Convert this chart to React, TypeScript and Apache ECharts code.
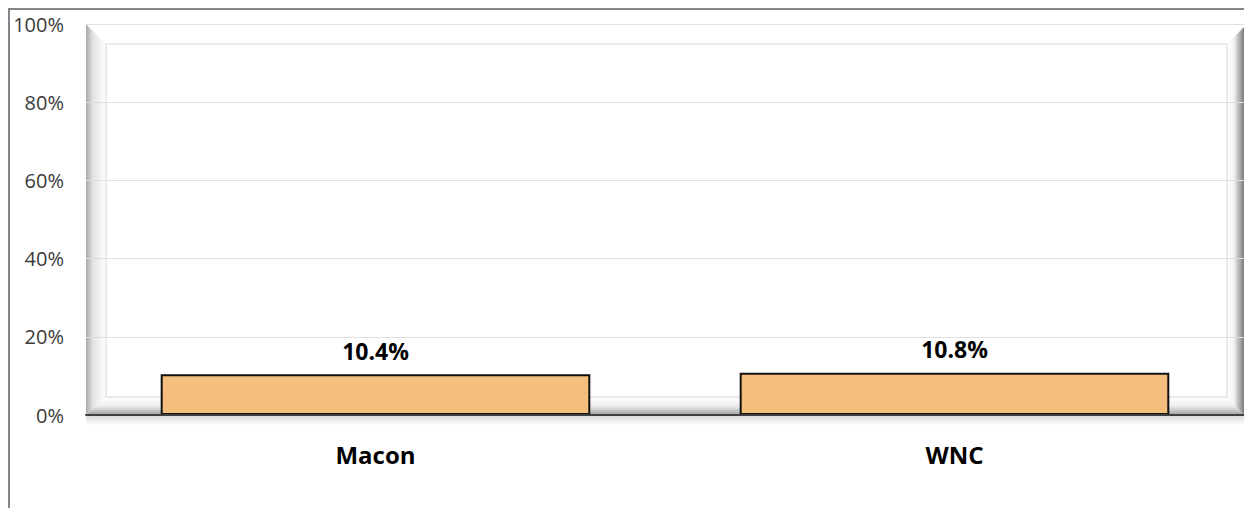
import React, { useEffect, useRef } from "react";
import * as echarts from "echarts";

const categories = ["Macon", "WNC"];
const values = [10.4, 10.8];
const yTicks = [0, 20, 40, 60, 80, 100];

const W = 1244;
const H = 508;
const L = 86;
const T = 24;
const B = 415;
const R = 1244;

export default function App() {
  const ref = useRef<HTMLDivElement>(null);
  useEffect(() => {
    document.body.style.margin = "0";
    const chart = echarts.init(ref.current!, null, { renderer: "svg" });
    const font = "'Open Sans', 'Liberation Sans', sans-serif";
    chart.setOption({
      animation: false,
      backgroundColor: "#ffffff",
      grid: { left: L, right: -2, top: T, bottom: H - B, containLabel: false },
      xAxis: {
        type: "category",
        data: categories,
        axisLine: { show: true, lineStyle: { color: "#404040", width: 2 } },
        axisTick: { show: false },
        axisLabel: { color: "#000", fontSize: 24, fontWeight: "bold", fontFamily: font, margin: 27 },
        z: 5,
      },
      yAxis: {
        type: "value",
        min: yTicks[0],
        max: yTicks[yTicks.length - 1],
        interval: 20,
        axisLine: { show: false },
        axisTick: { show: false },
        axisLabel: { color: "#3a3a3a", fontSize: 20, fontFamily: font, margin: 22, formatter: (v: number) => `${v}%` },
        splitLine: { show: true, lineStyle: { color: "#e0e0e0", width: 1 } },
      },
      graphic: [
        {
          type: "polyline",
          z: -20,
          shape: { points: [[9, H], [9, 9], [W, 9]] },
          style: { stroke: "#858585", lineWidth: 2, fill: null },
        },
        {
          type: "polygon",
          z: -10,
          shape: { points: [[L, T], [L + 20, T + 20], [L + 20, B - 18], [L, B]] },
          style: {
            fill: new echarts.graphic.LinearGradient(0, 0, 1, 0, [
              { offset: 0, color: "#a8a8a8" },
              { offset: 0.35, color: "#e4e4e4" },
              { offset: 1, color: "#ffffff" },
            ]),
          },
        },
        {
          type: "polygon",
          z: -10,
          shape: { points: [[L, B], [L + 20, B - 18], [1227, B - 18], [R, B]] },
          style: {
            fill: new echarts.graphic.LinearGradient(0, 0, 0, 1, [
              { offset: 0, color: "#ffffff" },
              { offset: 0.5, color: "#eeeeee" },
              { offset: 1, color: "#a0a0a0" },
            ]),
          },
        },
        {
          type: "polygon",
          z: -10,
          shape: { points: [[1227, T + 20], [R, T + 3], [R, B], [1227, B - 18]] },
          style: {
            fill: new echarts.graphic.LinearGradient(0, 0, 1, 0, [
              { offset: 0, color: "#ffffff" },
              { offset: 0.4, color: "#f4f4f4" },
              { offset: 1, color: "#7a7a7a" },
            ]),
          },
        },
        {
          type: "rect",
          z: -5,
          shape: { x: L + 20, y: T + 20, width: 1227 - L - 20, height: B - 18 - T - 20 },
          style: { fill: null, stroke: "#e4e4e4", lineWidth: 1.5 },
        },
        {
          type: "rect",
          z: -12,
          shape: { x: L, y: B, width: R - L, height: 10 },
          style: {
            fill: new echarts.graphic.LinearGradient(0, 0, 0, 1, [
              { offset: 0, color: "#d8d8d8" },
              { offset: 1, color: "#ffffff" },
            ]),
          },
        },
      ],
      series: [
        {
          type: "bar",
          data: values,
          barWidth: "74.2%",
          z: 3,
          itemStyle: { color: "#F4BE7C", borderColor: "#111111", borderWidth: 2 },
          label: {
            show: true,
            position: "top",
            distance: 12,
            color: "#000",
            fontSize: 23,
            fontWeight: "bold",
            fontFamily: font,
            formatter: (p: any) => `${p.value}%`,
          },
        },
      ],
    });
    return () => chart.dispose();
  }, []);
  return <div ref={ref} style={{ width: W, height: H }} />;
}
